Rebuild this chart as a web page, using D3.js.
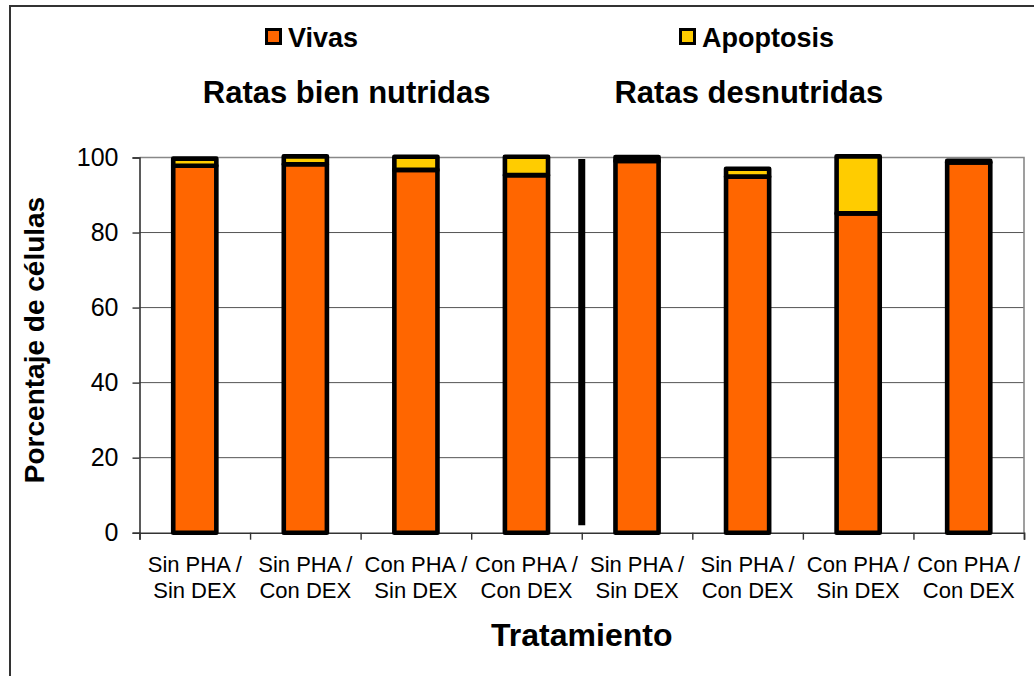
<!DOCTYPE html>
<html>
<head>
<meta charset="utf-8">
<script src="https://cdn.jsdelivr.net/npm/d3@7"></script>
<style>
  html, body { margin: 0; padding: 0; background: #fff; }
  svg { display: block; font-family: Arial, "Liberation Sans", sans-serif; }
</style>
</head>
<body>
<svg id="chart" width="1034" height="676"></svg>
<script>
// Treatment categories (two-line tick labels)
const categories = [
  ["Sin PHA /", "Sin DEX"], ["Sin PHA /", "Con DEX"], ["Con PHA /", "Sin DEX"], ["Con PHA /", "Con DEX"],
  ["Sin PHA /", "Sin DEX"], ["Sin PHA /", "Con DEX"], ["Con PHA /", "Sin DEX"], ["Con PHA /", "Con DEX"]
];
// Percentage of cells per treatment
const vivas     = [97.8, 98.2, 96.7, 95.3, 99.1, 94.9, 85.1, 98.7];
const apoptosis = [1.9, 2.1, 3.5, 4.9, 1.0, 2.1, 15.2, 0.4];
const seriesNames = ["Vivas", "Apoptosis"];
const groupTitles = ["Ratas bien nutridas", "Ratas desnutridas"];
const yTicks = [0, 20, 40, 60, 80, 100];
// Vertical divider between both groups of rats (value range on the y scale)
const dividerSpan = [2, 99.6];

const colors = { Vivas: "#FF6600", Apoptosis: "#FFCC00" };

const svg = d3.select("#chart");
const plotLeft = 139.5, plotRight = 1024, plotTop = 157.5, plotBottom = 532.7;

// Outer chart frame
svg.append("rect")
  .attr("x", 10).attr("y", 6).attr("width", 1100).attr("height", 800)
  .attr("fill", "#fff").attr("stroke", "#333").attr("stroke-width", 2);

const y = d3.scaleLinear().domain([0, 100]).range([plotBottom, plotTop]);
const slot = d3.scaleLinear().domain([0, categories.length]).range([plotLeft, plotRight]);
const x = d3.scaleBand().domain(d3.range(categories.length)).range([plotLeft, plotRight])
  .paddingInner(0.61).paddingOuter(0.305);

// Gridlines
svg.append("g").selectAll("line").data(yTicks.filter(d => d > 0 && d < 100)).join("line")
  .attr("x1", plotLeft).attr("x2", plotRight)
  .attr("y1", d => y(d)).attr("y2", d => y(d))
  .attr("stroke", "#555").attr("stroke-width", 1);

// Plot-area border (top and right)
svg.append("path")
  .attr("d", `M${plotLeft},${y(100)}H${plotRight}V${plotBottom}`)
  .attr("fill", "none").attr("stroke", "#888").attr("stroke-width", 1.6);

// Y axis
const yAxis = svg.append("g").attr("transform", `translate(${plotLeft},0)`)
  .call(d3.axisLeft(y).tickValues(yTicks).tickSize(7).tickPadding(14));
yAxis.select(".domain").attr("stroke", "#333").attr("stroke-width", 1.6);
yAxis.selectAll(".tick line").attr("stroke", "#333").attr("stroke-width", 1.4);
yAxis.selectAll(".tick text")
  .attr("font-size", 25).attr("fill", "#000")
  .attr("font-family", "Arial, 'Liberation Sans', sans-serif");

// X axis with ticks on category boundaries
const xAxis = svg.append("g").attr("transform", `translate(0,${plotBottom})`)
  .call(d3.axisBottom(slot).tickValues(d3.range(categories.length + 1)).tickSize(7).tickFormat(""));
xAxis.select(".domain").attr("stroke", "#333").attr("stroke-width", 1.6);
xAxis.selectAll(".tick line").attr("stroke", "#333").attr("stroke-width", 1.4);

// Category labels
const catLabels = svg.append("g").selectAll("text").data(categories).join("text")
  .attr("text-anchor", "middle").attr("font-size", 22).attr("fill", "#000");
catLabels.each(function(d, i) {
  const t = d3.select(this);
  const cx = x(i) + x.bandwidth() / 2;
  d.forEach((line, k) => {
    t.append("tspan").attr("x", cx).attr("y", 571.7 + k * 26.6).text(line);
  });
});

// Stacked bars
const rows = categories.map((c, i) => ({ i, Vivas: vivas[i], Apoptosis: apoptosis[i] }));
const stacked = d3.stack().keys(seriesNames)(rows);
svg.append("g").selectAll("g").data(stacked).join("g")
  .attr("fill", d => colors[d.key])
  .selectAll("rect").data(d => d).join("rect")
  .attr("x", d => x(d.data.i))
  .attr("width", x.bandwidth())
  .attr("y", d => y(d[1]))
  .attr("height", d => y(d[0]) - y(d[1]))
  .attr("stroke", "#000").attr("stroke-width", 4.6).attr("stroke-linejoin", "round");

// Group divider
svg.append("line")
  .attr("x1", slot(4)).attr("x2", slot(4))
  .attr("y1", y(dividerSpan[1])).attr("y2", y(dividerSpan[0]))
  .attr("stroke", "#000").attr("stroke-width", 7);

// Group titles
const titleX = [slot(2) - 14, slot(6) - 54];
svg.append("g").selectAll("text").data(groupTitles).join("text")
  .attr("x", (d, i) => titleX[i]).attr("y", 103)
  .attr("text-anchor", "middle").attr("font-size", 31).attr("font-weight", "bold")
  .text(d => d);

// Legend
const legendX = [265, 679];
const leg = svg.append("g").selectAll("g").data(seriesNames).join("g")
  .attr("transform", (d, i) => `translate(${legendX[i]},28)`);
leg.append("rect").attr("x", 1.5).attr("y", 1.5).attr("width", 14).attr("height", 14)
  .attr("fill", d => colors[d]).attr("stroke", "#000").attr("stroke-width", 3);
leg.append("text").attr("x", 23).attr("y", 18.5)
  .attr("font-size", 27).attr("font-weight", "bold").text(d => d);

// Axis titles
svg.append("text")
  .attr("x", (plotLeft + plotRight) / 2).attr("y", 646)
  .attr("text-anchor", "middle").attr("font-size", 32).attr("font-weight", "bold")
  .text("Tratamiento");
svg.append("text")
  .attr("transform", "translate(44,340) rotate(-90)")
  .attr("text-anchor", "middle").attr("font-size", 28).attr("font-weight", "bold")
  .text("Porcentaje de células");
</script>
</body>
</html>
